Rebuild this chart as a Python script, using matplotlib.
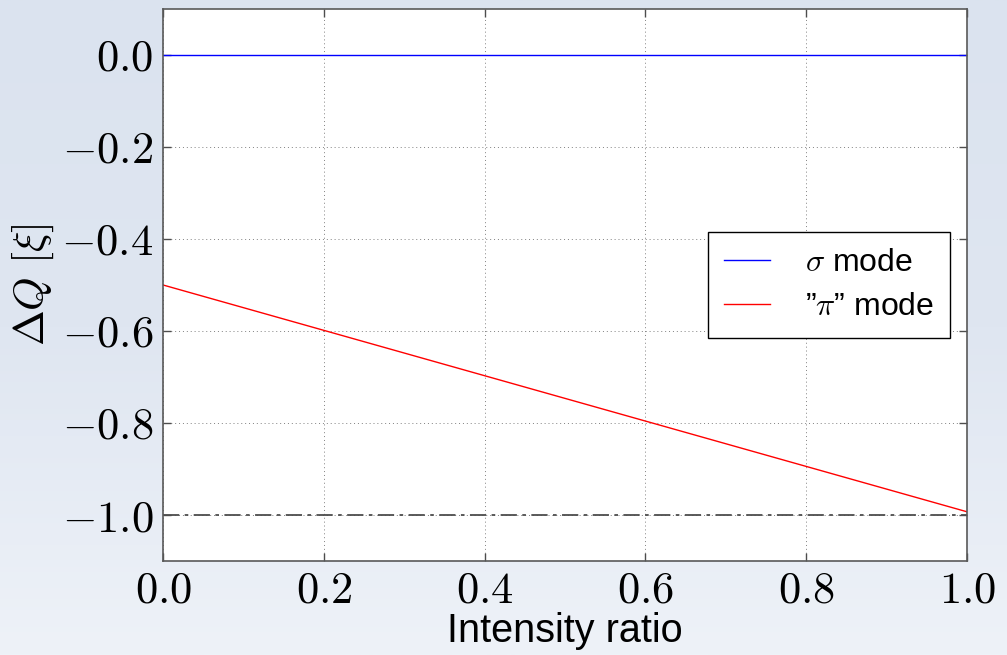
import numpy as np
import matplotlib
matplotlib.use('Agg')
import matplotlib.pyplot as plt

plt.rcParams['mathtext.fontset'] = 'cm'
plt.rcParams['font.family'] = ['Liberation Sans', 'DejaVu Sans']

ratio = [0.0, 1.0]
sigma_mode = [0.0, 0.0]
pi_mode = [-0.5, -0.993]
limit = [-1.0, -1.0]

fig = plt.figure(figsize=(10.07, 6.55), dpi=100)

# slide-like background gradient
bg = fig.add_axes([0, 0, 1, 1], zorder=-10)
grad = np.linspace(0, 1, 256).reshape(-1, 1)
cmap = matplotlib.colors.LinearSegmentedColormap.from_list('bg', ['#dbe3ef', '#dfe6f1', '#eef2f8'])
bg.imshow(grad, aspect='auto', cmap=cmap, extent=[0, 1, 0, 1], origin='upper')
bg.axis('off')

ax = fig.add_axes([0.1619, 0.1435, 0.7984, 0.8428])
ax.plot(ratio, sigma_mode, color='blue', lw=1, label=r'$\sigma$ mode')
ax.plot(ratio, pi_mode, color='red', lw=1, label='”$\\pi$” mode')
ax.plot(ratio, limit, color='0.3', lw=1.3, dashes=(9, 3, 2, 3))

xt = [0.0, 0.2, 0.4, 0.6, 0.8, 1.0]
yt = [0.0, -0.2, -0.4, -0.6, -0.8, -1.0]
ax.set_xlim(0, 1)
ax.set_ylim(-1.1, 0.1)
ax.set_xticks(xt)
ax.set_yticks(yt)
ax.set_xticklabels([r'$%.1f$' % v for v in xt])
ax.set_yticklabels([r'$%.1f$' % v if v != 0 else r'$0.0$' for v in yt])
ax.tick_params(direction='in', labelsize=32, length=6, width=1, color='0.3', top=True, right=True, pad=7)
ax.grid(True, ls=(0, (1, 3)), color='0.5', lw=0.7)
for s in ax.spines.values():
    s.set_color('0.35')
    s.set_linewidth(1.2)

ax.set_xlabel('Intensity ratio', fontsize=28.5, labelpad=0)
ax.set_ylabel(r'$\Delta Q\ [\xi]$', fontsize=31, labelpad=4)

leg = ax.legend(loc='center right', bbox_to_anchor=(0.979, 0.5), borderaxespad=0, fontsize=23,
                handlelength=1.45, handletextpad=1.1, borderpad=0.5, labelspacing=0.45,
                fancybox=False, framealpha=1)
leg.get_frame().set_edgecolor('black')
leg.get_frame().set_linewidth(1)

fig.savefig('out.png', dpi=100)
